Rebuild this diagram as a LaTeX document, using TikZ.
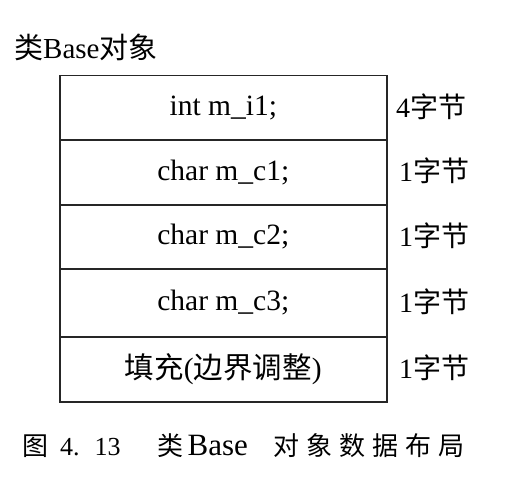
\documentclass[tikz,border=0pt]{standalone}
\usepackage{fontspec}
\setmainfont{Liberation Serif}
\newfontfamily\cjk{Noto Sans CJK SC}
\begin{document}
\begin{tikzpicture}[x=1pt,y=-1pt,
  cell/.style={draw=black!85,line width=1.5pt,minimum width=327pt,inner sep=0pt,anchor=north west,font=\fontsize{29.5}{32}\selectfont},
  size/.style={anchor=west,inner sep=0pt,font=\fontsize{28}{32}\selectfont},
  ttl/.style={anchor=west,inner sep=0pt,font=\fontsize{29}{32}\selectfont},
  captext/.style={anchor=west,inner sep=0pt,font=\fontsize{26}{30}\selectfont}]
\useasboundingbox[fill=white] (0,0) rectangle (511,484);
\node[ttl] (title) at (14,47) {{\cjk 类}Base{\cjk 对象}};
\node[cell,minimum height=64pt] (r1) at (59,75) {int m\_i1;};
\node[cell,minimum height=65pt] (r2) at (59,139) {char m\_c1;};
\node[cell,minimum height=64pt] (r3) at (59,204) {char m\_c2;};
\node[cell,minimum height=68pt] (r4) at (59,268) {char m\_c3;};
\node[cell,minimum height=65pt] (r5) at (59,336) {{\cjk 填充}({\cjk 边界调整})};
\node[size] (s1) at (396,107) {4{\cjk 字节}};
\node[size] (s2) at (399,171) {1{\cjk 字节}};
\node[size] (s3) at (399,236) {1{\cjk 字节}};
\node[size] (s4) at (399,302) {1{\cjk 字节}};
\node[size] (s5) at (399,368) {1{\cjk 字节}};
\node[captext] (caption) at (22,446) {{\cjk 图}\hspace{12pt}4.\hspace{15pt}13\hspace{37pt}{\cjk 类}\hspace{4pt}{\fontsize{31}{30}\selectfont Base}\hspace{26pt}{\cjk 对\hspace{7pt}象\hspace{7pt}数\hspace{7pt}据\hspace{7pt}布\hspace{7pt}局}};
\end{tikzpicture}
\end{document}
